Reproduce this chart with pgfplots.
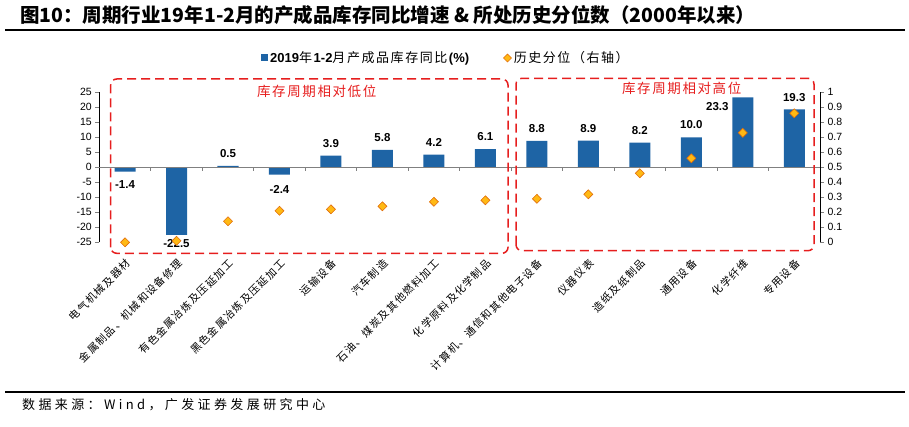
\documentclass[border=0pt]{standalone}
\usepackage{pgfplots}
\pgfplotsset{compat=1.18}
\usepackage{pgfplotstable}
\usepackage{fontspec}
\setmainfont{Liberation Sans}
\newfontfamily\cjk{Noto Sans CJK SC}
\newfontfamily\cjkls[LetterSpace=12]{Noto Sans CJK SC}
\newfontfamily\cjksrc[LetterSpace=26]{Noto Sans CJK SC}
\definecolor{barblue}{RGB}{30,100,165}
\definecolor{dyellow}{RGB}{255,185,20}
\definecolor{dorange}{RGB}{225,110,10}
\definecolor{boxred}{RGB}{230,30,30}

\pgfplotstableread{
x val lab anc xs ys pct
0 -1.4 -1.4 90 0 -9 0.00
1 -22.5 -22.5 90 0 -4.5 0.01
2 0.5 0.5 270 0 8 0.14
3 -2.4 -2.4 90 0 -10.5 0.21
4 3.9 3.9 270 0 8 0.22
5 5.8 5.8 270 0 8 0.24
6 4.2 4.2 270 0 8 0.27
7 6.1 6.1 270 0 8 0.28
8 8.8 8.8 270 0 8 0.29
9 8.9 8.9 270 0 8 0.32
10 8.2 8.2 270 0 8 0.46
11 10.0 10.0 270 0 8 0.56
12 23.3 23.3 0 -14 -9 0.73
13 19.3 19.3 270 0 8 0.86
}\datatable

\begin{document}
\begin{tikzpicture}[x=1pt,y=1pt]
\useasboundingbox (0,0) rectangle (909,426);
% title and rules
\node[anchor=west, inner sep=0pt, font=\cjk\bfseries\fontsize{19.5}{22}\selectfont] at (20,411) {图10：周期行业19年1-2月的产成品库存同比增速 \& 所处历史分位数（2000年以来）};
\draw[line width=2.2pt] (5,396) -- (905,396);
\draw[line width=2pt] (5,34) -- (905,34);
\node[anchor=west, inner sep=0pt, font=\cjksrc\fontsize{13}{15}\selectfont] at (22,21) {数据来源：Wind，广发证券发展研究中心};

\begin{axis}[
  at={(99.3pt,183.7pt)}, anchor=south west,
  scale only axis, width=720.7pt, height=150pt,
  xmin=-0.5, xmax=13.5, ymin=-25, ymax=25,
  axis y line*=left, axis x line*=bottom,
  x axis line style={draw=none},
  y axis line style={line width=0.8pt},
  ytick={-25,-20,...,25},
  tick align=outside, major tick length=4pt,
  xtick={0,...,13}, xtick style={draw=none},
  xticklabels={电气机械及器材,金属制品、机械和设备修理,有色金属冶炼及压延加工,黑色金属冶炼及压延加工,运输设备,汽车制造,石油、煤炭及其他燃料加工,化学原料及化学制品,计算机、通信和其他电子设备,仪器仪表,造纸及纸制品,通用设备,化学纤维,专用设备},
  xticklabel style={font=\cjkls\fontsize{10.5}{12}\selectfont, rotate=45, anchor=north east, inner sep=1pt},
  xticklabel shift=10pt,
  /pgf/number format/assume math mode=true,
  yticklabel style={font=\fontsize{10.5}{12}\selectfont},
  ybar, bar width=21pt,
  legend style={at={(0.481,1.229)}, anchor=center, draw=none, fill=none,
    legend columns=2, font=\fontsize{13}{15}\selectfont,
    /tikz/every even column/.append style={column sep=32pt}},
  clip=false,
]
\addplot[fill=barblue, draw=none,
  legend image code/.code={\fill[barblue] (0pt,-3.5pt) rectangle (7pt,3.5pt);},
  point meta=explicit symbolic,
  nodes near coords,
  visualization depends on={\thisrow{anc} \as \myanc},
  visualization depends on={\thisrow{xs} \as \myxs},
  visualization depends on={\thisrow{ys} \as \myys},
  every node near coord/.append style={font=\bfseries\fontsize{11.5}{13}\selectfont, inner sep=0pt, anchor=\myanc, xshift=\myxs pt, yshift=\myys pt},
] table[x=x, y=val, meta=lab] {\datatable};
\addlegendentry{\textbf{2019}{\cjkls 年}\textbf{1-2}{\cjkls 月产成品库存同比}\textbf{(\%)}}
\addlegendimage{legend image code/.code={\filldraw[fill=dyellow, draw=dorange, line width=0.6pt] (0pt,0pt) -- (4pt,4pt) -- (8pt,0pt) -- (4pt,-4pt) -- cycle;}}
\addlegendentry{\cjkls 历史分位（右轴）}
\draw[gray, line width=1.3pt] (axis cs:-0.5,0) -- (axis cs:13.5,0);
\pgfplotsinvokeforeach{0,...,12}{\draw[gray, line width=0.8pt] (axis cs:#1.5,0) -- ++(0pt,-4pt);}
\end{axis}

\begin{axis}[
  at={(99.3pt,183.7pt)}, anchor=south west,
  scale only axis, width=720.7pt, height=150pt,
  xmin=-0.5, xmax=13.5, ymin=0, ymax=1,
  axis y line*=right, axis x line=none,
  y axis line style={line width=0.8pt},
  ytick={0,0.1,0.2,0.3,0.4,0.5,0.6,0.7,0.8,0.9,1},
  tick align=outside, major tick length=4pt,
  /pgf/number format/assume math mode=true,
  yticklabel style={font=\fontsize{10.5}{12}\selectfont},
  clip=false,
]
\addplot[only marks, mark=diamond*, mark size=4.5pt,
  mark options={fill=dyellow, draw=dorange, line width=0.6pt, xscale=1.33}]
  table[x=x, y=pct] {\datatable};
\end{axis}

% region boxes
\draw[boxred, line width=1.5pt, dash pattern=on 9pt off 5pt, rounded corners=6pt] (110.7,172.7) rectangle (508,347);
\draw[boxred, line width=1.5pt, dash pattern=on 9pt off 5pt, rounded corners=6pt] (516,175.3) rectangle (814,347.7);
\node[text=boxred, font=\cjkls\fontsize{13.5}{16}\selectfont] at (316.7,334.3) {库存周期相对低位};
\node[text=boxred, font=\cjkls\fontsize{13.5}{16}\selectfont] at (681.7,337.7) {库存周期相对高位};
\end{tikzpicture}
\end{document}
